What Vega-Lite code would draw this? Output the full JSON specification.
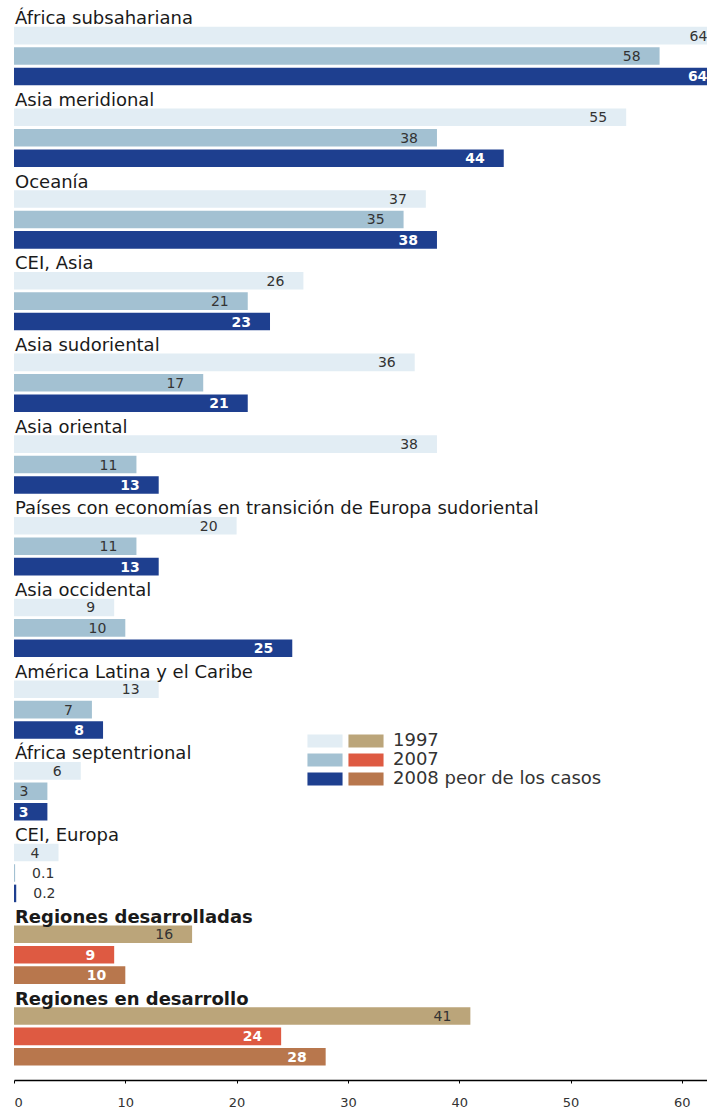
{
  "$schema": "https://vega.github.io/schema/vega-lite/v6.json",
  "width": 693,
  "height": 1062,
  "autosize": "none",
  "padding": {"left": 14, "top": 5, "right": 0, "bottom": 44},
  "background": "white",
  "config": {"view": {"stroke": null}, "font": "DejaVu Sans"},
  "datasets": {
    "bars": [
      {"region": "África subsahariana", "grp": "reg", "serie": "1997", "value": 64},
      {"region": "África subsahariana", "grp": "reg", "serie": "2007", "value": 58},
      {"region": "África subsahariana", "grp": "reg", "serie": "2008 peor de los casos", "value": 64},
      {"region": "Asia meridional", "grp": "reg", "serie": "1997", "value": 55},
      {"region": "Asia meridional", "grp": "reg", "serie": "2007", "value": 38},
      {"region": "Asia meridional", "grp": "reg", "serie": "2008 peor de los casos", "value": 44},
      {"region": "Oceanía", "grp": "reg", "serie": "1997", "value": 37},
      {"region": "Oceanía", "grp": "reg", "serie": "2007", "value": 35},
      {"region": "Oceanía", "grp": "reg", "serie": "2008 peor de los casos", "value": 38},
      {"region": "CEI, Asia", "grp": "reg", "serie": "1997", "value": 26},
      {"region": "CEI, Asia", "grp": "reg", "serie": "2007", "value": 21},
      {"region": "CEI, Asia", "grp": "reg", "serie": "2008 peor de los casos", "value": 23},
      {"region": "Asia sudoriental", "grp": "reg", "serie": "1997", "value": 36},
      {"region": "Asia sudoriental", "grp": "reg", "serie": "2007", "value": 17},
      {"region": "Asia sudoriental", "grp": "reg", "serie": "2008 peor de los casos", "value": 21},
      {"region": "Asia oriental", "grp": "reg", "serie": "1997", "value": 38},
      {"region": "Asia oriental", "grp": "reg", "serie": "2007", "value": 11},
      {"region": "Asia oriental", "grp": "reg", "serie": "2008 peor de los casos", "value": 13},
      {"region": "Países con economías en transición de Europa sudoriental", "grp": "reg", "serie": "1997", "value": 20},
      {"region": "Países con economías en transición de Europa sudoriental", "grp": "reg", "serie": "2007", "value": 11},
      {"region": "Países con economías en transición de Europa sudoriental", "grp": "reg", "serie": "2008 peor de los casos", "value": 13},
      {"region": "Asia occidental", "grp": "reg", "serie": "1997", "value": 9},
      {"region": "Asia occidental", "grp": "reg", "serie": "2007", "value": 10},
      {"region": "Asia occidental", "grp": "reg", "serie": "2008 peor de los casos", "value": 25},
      {"region": "América Latina y el Caribe", "grp": "reg", "serie": "1997", "value": 13},
      {"region": "América Latina y el Caribe", "grp": "reg", "serie": "2007", "value": 7},
      {"region": "América Latina y el Caribe", "grp": "reg", "serie": "2008 peor de los casos", "value": 8},
      {"region": "África septentrional", "grp": "reg", "serie": "1997", "value": 6},
      {"region": "África septentrional", "grp": "reg", "serie": "2007", "value": 3},
      {"region": "África septentrional", "grp": "reg", "serie": "2008 peor de los casos", "value": 3},
      {"region": "CEI, Europa", "grp": "reg", "serie": "1997", "value": 4},
      {"region": "CEI, Europa", "grp": "reg", "serie": "2007", "value": 0.1},
      {"region": "CEI, Europa", "grp": "reg", "serie": "2008 peor de los casos", "value": 0.2},
      {"region": "Regiones desarrolladas", "grp": "agg", "serie": "1997", "value": 16},
      {"region": "Regiones desarrolladas", "grp": "agg", "serie": "2007", "value": 9},
      {"region": "Regiones desarrolladas", "grp": "agg", "serie": "2008 peor de los casos", "value": 10},
      {"region": "Regiones en desarrollo", "grp": "agg", "serie": "1997", "value": 41},
      {"region": "Regiones en desarrollo", "grp": "agg", "serie": "2007", "value": 24},
      {"region": "Regiones en desarrollo", "grp": "agg", "serie": "2008 peor de los casos", "value": 28}
    ],
    "titles": [
      {"region": "África subsahariana", "grp": "reg"},
      {"region": "Asia meridional", "grp": "reg"},
      {"region": "Oceanía", "grp": "reg"},
      {"region": "CEI, Asia", "grp": "reg"},
      {"region": "Asia sudoriental", "grp": "reg"},
      {"region": "Asia oriental", "grp": "reg"},
      {"region": "Países con economías en transición de Europa sudoriental", "grp": "reg"},
      {"region": "Asia occidental", "grp": "reg"},
      {"region": "América Latina y el Caribe", "grp": "reg"},
      {"region": "África septentrional", "grp": "reg"},
      {"region": "CEI, Europa", "grp": "reg"},
      {"region": "Regiones desarrolladas", "grp": "agg"},
      {"region": "Regiones en desarrollo", "grp": "agg"}
    ]
  },
  "encoding": {
    "y": {
      "field": "region",
      "type": "nominal",
      "axis": null,
      "scale": {
        "domain": ["África subsahariana", "Asia meridional", "Oceanía", "CEI, Asia", "Asia sudoriental", "Asia oriental", "Países con economías en transición de Europa sudoriental", "Asia occidental", "América Latina y el Caribe", "África septentrional", "CEI, Europa", "Regiones desarrolladas", "Regiones en desarrollo"],
        "paddingInner": 0,
        "paddingOuter": 0
      }
    }
  },
  "layer": [
    {
      "data": {"name": "bars"},
      "transform": [{"filter": "datum.grp == 'reg'"}],
      "mark": {"type": "bar", "clip": true},
      "encoding": {
        "x": {
          "field": "value",
          "type": "quantitative",
          "scale": {"domain": [0, 62.26], "nice": false, "zero": true},
          "axis": {
            "values": [0, 10, 20, 30, 40, 50, 60],
            "grid": false,
            "title": null,
            "domainColor": "#000",
            "domainWidth": 1.5,
            "tickColor": "#000",
            "tickSize": 3,
            "labelPadding": 13,
            "labelFontSize": 13,
            "labelColor": "#333",
            "offset": 13
          }
        },
        "yOffset": {"field": "serie", "type": "nominal", "scale": {"domain": ["encabezado", "1997", "2007", "2008 peor de los casos"], "paddingInner": 0.14, "paddingOuter": 0.07}},
        "color": {
          "field": "serie",
          "type": "nominal",
          "scale": {"domain": ["1997", "2007", "2008 peor de los casos"], "range": ["#e2edf4", "#a3c1d2", "#1e3f8f"]},
          "legend": {
            "orient": "none",
            "legendX": 302,
            "legendY": 727,
            "title": null,
            "symbolType": "M-2.7,-1H2.7V1H-2.7Z",
            "symbolSize": 169,
            "symbolStrokeWidth": 0,
            "symbolOpacity": 1,
            "labelFontSize": 18,
            "labelExpr": "''",
            "rowPadding": 1
          }
        }
      }
    },
    {
      "data": {"name": "bars"},
      "transform": [{"filter": "datum.grp == 'agg'"}],
      "mark": {"type": "bar", "clip": true},
      "encoding": {
        "x": {"field": "value", "type": "quantitative"},
        "yOffset": {"field": "serie", "type": "nominal"},
        "color": {
          "field": "serie",
          "type": "nominal",
          "scale": {"domain": ["1997", "2007", "2008 peor de los casos"], "range": ["#bba57a", "#de5a42", "#b8774d"]},
          "legend": {
            "orient": "none",
            "legendX": 343,
            "legendY": 727,
            "title": null,
            "symbolType": "M-2.7,-1H2.7V1H-2.7Z",
            "symbolSize": 169,
            "symbolStrokeWidth": 0,
            "symbolOpacity": 1,
            "labelFontSize": 18,
            "labelColor": "#333",
            "labelOffset": 18,
            "labelLimit": 400,
            "rowPadding": 1
          }
        }
      }
    },
    {
      "data": {"name": "bars"},
      "transform": [{"filter": "datum.value >= 1 && ((datum.grp == 'reg' && datum.serie != '2008 peor de los casos') || (datum.grp == 'agg' && datum.serie == '1997'))"}],
      "mark": {"type": "text", "align": "right", "baseline": "middle", "dx": -19, "dy": 1, "fontSize": 14, "color": "#333"},
      "encoding": {
        "x": {"field": "value", "type": "quantitative"},
        "yOffset": {"field": "serie", "type": "nominal"},
        "text": {"field": "value", "type": "quantitative"}
      }
    },
    {
      "data": {"name": "bars"},
      "transform": [{"filter": "datum.value >= 1 && ((datum.grp == 'reg' && datum.serie == '2008 peor de los casos') || (datum.grp == 'agg' && datum.serie != '1997'))"}],
      "mark": {"type": "text", "align": "right", "baseline": "middle", "dx": -19, "dy": 1, "fontSize": 14, "fontWeight": "bold", "color": "white"},
      "encoding": {
        "x": {"field": "value", "type": "quantitative"},
        "yOffset": {"field": "serie", "type": "nominal"},
        "text": {"field": "value", "type": "quantitative"}
      }
    },
    {
      "data": {"name": "bars"},
      "transform": [{"filter": "datum.value < 1"}],
      "mark": {"type": "text", "align": "left", "baseline": "middle", "dx": 17, "dy": 1, "fontSize": 14, "color": "#333"},
      "encoding": {
        "x": {"field": "value", "type": "quantitative"},
        "yOffset": {"field": "serie", "type": "nominal"},
        "text": {"field": "value", "type": "quantitative"}
      }
    },
    {
      "data": {"name": "titles"},
      "transform": [{"filter": "datum.grp == 'reg'"}],
      "mark": {"type": "text", "align": "left", "baseline": "middle", "dx": 1, "dy": 4, "fontSize": 18, "color": "#1a1a1a"},
      "encoding": {
        "x": {"datum": 0, "type": "quantitative"},
        "yOffset": {"datum": "encabezado", "type": "nominal"},
        "text": {"field": "region", "type": "nominal"}
      }
    },
    {
      "data": {"name": "titles"},
      "transform": [{"filter": "datum.grp == 'agg'"}],
      "mark": {"type": "text", "align": "left", "baseline": "middle", "dx": 1, "dy": 4, "fontSize": 18, "fontWeight": "bold", "color": "#1a1a1a"},
      "encoding": {
        "x": {"datum": 0, "type": "quantitative"},
        "yOffset": {"datum": "encabezado", "type": "nominal"},
        "text": {"field": "region", "type": "nominal"}
      }
    }
  ],
  "resolve": {"scale": {"color": "independent"}}
}
